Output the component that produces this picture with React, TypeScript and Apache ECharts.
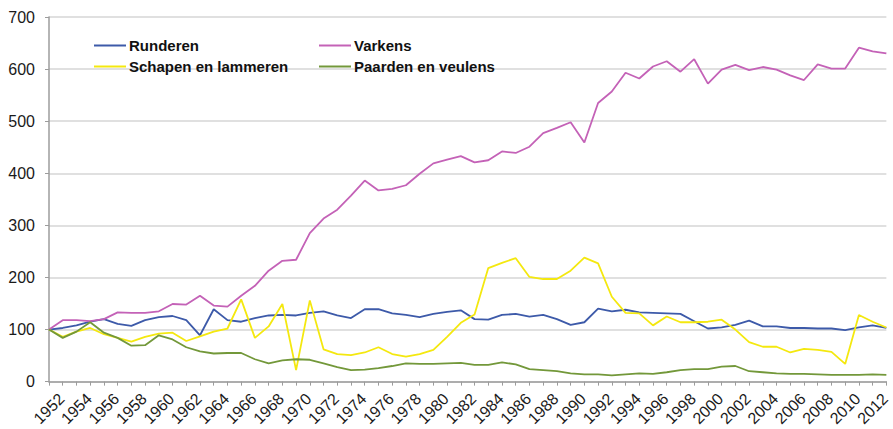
import React, { useEffect, useRef } from "react";
import * as echarts from "echarts";

const years: string[] = [];
for (let y = 1952; y <= 2013; y++) years.push(String(y));

const runderen = [
  100, 103, 108, 115, 120, 111, 107, 118, 124, 126,
  118, 89, 139, 118, 115, 122, 127, 128, 127, 132,
  135, 127, 122, 139, 139, 131, 128, 124, 130, 134,
  137, 120, 119, 128, 130, 125, 128, 120, 109, 114,
  140, 135, 138, 133, 132, 131, 130, 116, 102, 104,
  109, 117, 106, 106, 103, 103, 102, 102, 99, 104,
  108, 103,
];

const varkens = [
  100, 118, 118, 116, 120, 133, 132, 132, 135, 149,
  148, 165, 146, 144, 165, 184, 213, 232, 234, 285,
  313, 330, 357, 386, 367, 370, 377, 399, 419, 426,
  433, 421, 425, 442, 439, 451, 477, 487, 498, 459,
  535, 557, 593, 582, 605, 615, 595, 619, 572, 599,
  608, 598, 604, 599, 588, 579, 609, 601, 601, 641,
  634, 630,
];

const schapen = [
  100, 86, 96, 103, 91, 84, 77, 86, 92, 94,
  78, 87, 96, 102, 158, 84, 106, 149, 22, 156,
  62, 53, 51, 56, 66, 53, 48, 53, 61, 86,
  113, 129, 218, 228, 237, 201, 197, 197, 213, 238,
  227, 163, 132, 131, 108, 125, 114, 114, 115, 119,
  100, 76, 67, 67, 56, 63, 61, 57, 34, 128,
  115, 104,
];

const paarden = [
  100, 84, 96, 114, 94, 84, 69, 70, 89, 81,
  66, 58, 54, 55, 55, 43, 35, 41, 43, 42,
  35, 28, 22, 23, 26, 30, 35, 34, 34, 35,
  36, 32, 32, 37, 33, 24, 22, 20, 16, 14,
  14, 12, 14, 16, 15, 18, 22, 24, 24, 29,
  30, 20, 18, 16, 15, 15, 14, 13, 13, 13,
  14, 13,
];

const seriesNames = ["Runderen", "Varkens", "Schapen en lammeren", "Paarden en veulens"];
const seriesColors = ["#3d5aa9", "#c462b7", "#f4e80f", "#73983a"];
const seriesData = [runderen, varkens, schapen, paarden];

const FONT = "'Liberation Sans', Arial, sans-serif";

export default function App() {
  const ref = useRef<HTMLDivElement>(null);

  useEffect(() => {
    if (!ref.current) return;
    const chart = echarts.init(ref.current, undefined, { renderer: "svg" });
    const legendCommon = {
      orient: "vertical" as const,
      top: 33,
      itemWidth: 32,
      itemHeight: 14,
      itemGap: 6,
      selectedMode: false,
      itemStyle: { opacity: 0 },
      textStyle: { fontFamily: FONT, fontWeight: "bold" as const, fontSize: 15, color: "#111", padding: [0, 0, 0, -2] },
    };
    chart.setOption({
      animation: false,
      backgroundColor: "#ffffff",
      textStyle: { fontFamily: FONT },
      legend: [
        { ...legendCommon, left: 88, data: ["Runderen", "Schapen en lammeren"] },
        { ...legendCommon, left: 313, data: ["Varkens", "Paarden en veulens"] },
      ],
      grid: { left: 49, right: 4, top: 17, bottom: 43, containLabel: false },
      xAxis: {
        type: "category",
        data: years,
        boundaryGap: false,
        axisLine: { lineStyle: { color: "#9c9c9c", width: 1.5 } },
        axisTick: { show: true, interval: 0, length: 4, lineStyle: { color: "#9c9c9c" } },
        axisLabel: {
          interval: 1,
          rotate: 45,
          align: "center",
          verticalAlign: "middle",
          margin: 27,
          fontSize: 16,
          color: "#1a1a1a",
          fontFamily: FONT,
        },
        splitLine: { show: false },
      },
      yAxis: {
        type: "value",
        min: 0,
        max: 700,
        interval: 100,
        axisLine: { show: true, lineStyle: { color: "#9c9c9c", width: 1.5 } },
        axisTick: { show: true, length: 4, lineStyle: { color: "#9c9c9c" } },
        axisLabel: { margin: 14, fontSize: 16, color: "#1a1a1a", fontFamily: FONT },
        splitLine: { show: true, lineStyle: { color: "#d6d6d6", width: 1.5 } },
      },
      series: seriesNames.map((name, i) => ({
        name,
        type: "line",
        data: seriesData[i],
        symbol: "none",
        lineStyle: { color: seriesColors[i], width: 1.8 },
        itemStyle: { color: seriesColors[i] },
      })),
    });
    return () => chart.dispose();
  }, []);

  return (
    <div
      ref={ref}
      style={{ position: "fixed", left: 0, top: 0, width: 893, height: 429, background: "#fff" }}
    />
  );
}
